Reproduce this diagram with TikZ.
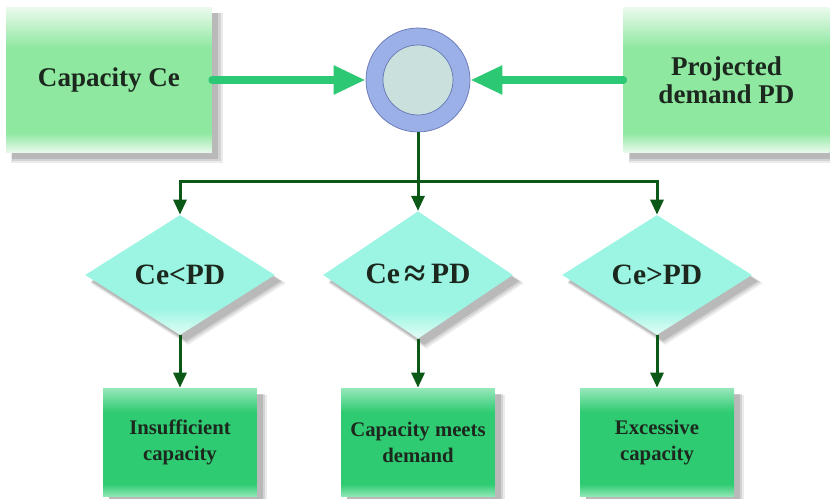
\documentclass[tikz,border=0pt]{standalone}
\usepackage{fontspec}
\setmainfont{Liberation Serif}
\usepackage{xcolor}
\usetikzlibrary{arrows.meta, shapes.geometric, shadows}

\definecolor{ink}{RGB}{28,40,30}
\definecolor{lightgreen}{RGB}{142,232,160}
\definecolor{palegreen}{RGB}{236,250,238}
\definecolor{deepgreen}{RGB}{47,203,114}
\definecolor{fadegreen}{RGB}{150,232,186}
\definecolor{aqua}{RGB}{156,245,226}
\definecolor{paleaqua}{RGB}{226,253,246}
\definecolor{arrowgreen}{RGB}{45,200,116}
\definecolor{linkgreen}{RGB}{12,88,22}
\definecolor{ringblue}{RGB}{156,176,232}
\definecolor{ringedge}{RGB}{100,116,180}
\definecolor{ringcore}{RGB}{201,224,220}

% fondus verticaux (le chemin occupe 25bp--75bp)
\pgfdeclareverticalshading{lightfade}{100bp}{color(0bp)=(palegreen); color(25bp)=(palegreen);
  color(32bp)=(lightgreen); color(61bp)=(lightgreen); color(75bp)=(palegreen); color(100bp)=(palegreen)}
\pgfdeclareverticalshading{deepfade}{100bp}{color(0bp)=(fadegreen); color(25bp)=(fadegreen);
  color(31bp)=(deepgreen); color(64bp)=(deepgreen); color(75bp)=(fadegreen); color(100bp)=(fadegreen)}
\pgfdeclareverticalshading{aquafade}{100bp}{color(0bp)=(paleaqua); color(25bp)=(paleaqua);
  color(36bp)=(aqua); color(100bp)=(aqua)}

\begin{document}
\begin{tikzpicture}[x=0.02cm, y=-0.02cm,
    softshadow/.style={
      drop shadow={shadow xshift=4.5pt, shadow yshift=-4.5pt, shadow scale=1.03, opacity=0.08, fill=black},
      drop shadow={shadow xshift=4pt, shadow yshift=-4pt, shadow scale=1.015, opacity=0.1, fill=black},
      drop shadow={shadow xshift=3.5pt, shadow yshift=-3.5pt, opacity=0.12, fill=black}},
    inputbox/.style={rectangle, shading=lightfade, minimum width=4.12cm, minimum height=2.92cm,
      align=center, text=ink, font=\fontsize{15.4}{16.2}\selectfont\bfseries, softshadow},
    testbox/.style={diamond, shading=aquafade, minimum width=3.8cm, minimum height=2.4cm, inner sep=0pt,
      text=ink, font=\fontsize{16.8}{18}\selectfont\bfseries, softshadow},
    resultbox/.style={rectangle, shading=deepfade, minimum width=3.08cm, minimum height=2.18cm,
      align=center, text=ink, font=\fontsize{11.8}{14.8}\selectfont\bfseries, softshadow},
    bigarrow/.style={draw=arrowgreen, line width=0.16cm, line cap=round,
      -{Triangle[length=0.64cm, width=0.54cm]}},
    link/.style={draw=linkgreen, line width=0.06cm},
    flow/.style={link, -{Triangle[length=0.3cm, width=0.26cm]}}]
    \useasboundingbox (0,0) rectangle (830,499);

    % Les deux entrees
    \node[inputbox] (capacity) at (109,80) {Capacity Ce};
    \node[inputbox] (demand) at (726.5,80) {Projected\\demand PD};

    % Le comparateur
    \node[circle, fill=ringblue, draw=ringedge, line width=0.4pt, minimum size=2.08cm] (ring) at (418,80) {};
    \node[circle, fill=ringcore, draw=ringedge, line width=0.4pt, minimum size=1.4cm] (core) at (ring.center) {};

    \draw[bigarrow] (capacity.east) -- (ring.west);
    \draw[bigarrow] (demand.west) -- (ring.east);

    % Les trois cas
    \node[testbox] (less) at (180,275) {Ce<PD};
    \node[testbox] (equal) at (418,275) {Ce\,\raisebox{-1.8pt}{\fontsize{22}{22}\selectfont≈}\,PD};
    \node[testbox] (more) at (657,275) {Ce>PD};

    \coordinate (split) at (418,182);
    \draw[link] (ring.south) -- (split);
    \draw[flow] (split) -| (less.north);
    \draw[flow] (split) -- (equal.north);
    \draw[flow] (split) -| (more.north);

    % Les resultats
    \node[resultbox] (short) at (180,442.5) {Insufficient\\capacity};
    \node[resultbox] (meets) at (418,442.5) {Capacity meets\\demand};
    \node[resultbox] (excess) at (657,442.5) {Excessive\\capacity};

    \draw[flow] (less.south) -- (short.north);
    \draw[flow] (equal.south) -- (meets.north);
    \draw[flow] (more.south) -- (excess.north);
\end{tikzpicture}
\end{document}
